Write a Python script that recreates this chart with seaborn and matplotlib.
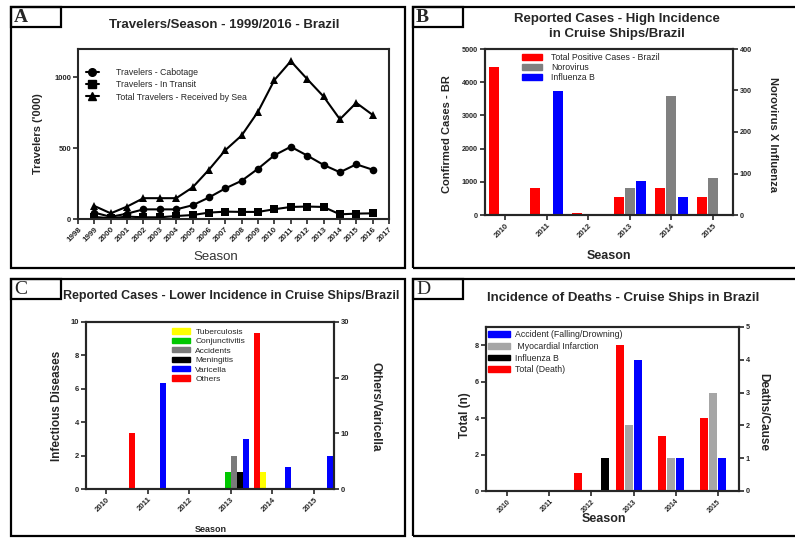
import matplotlib
matplotlib.use("Agg")
import matplotlib.pyplot as plt
from matplotlib.patches import Rectangle, Patch
from matplotlib.lines import Line2D
import seaborn as sns
import pandas as pd

# ---- panel A: travelers per season ('000)
years = list(range(1999, 2017))
cabotage = [45, 15, 38, 68, 68, 68, 97, 152, 216, 270, 355, 450, 510, 448, 382, 330, 386, 348]
in_transit = [15, 5, 17, 12, 12, 21, 28, 45, 52, 50, 50, 69, 85, 88, 85, 33, 38, 40]
total_sea = [92, 40, 88, 147, 147, 147, 223, 348, 486, 590, 758, 981, 1114, 988, 865, 704, 820, 735]
a_labels = ["Travelers - Cabotage", "Travelers - In Transit", "Total Travelers - Received by Sea"]

# ---- panels B-D: seasons
seasons = ["2010", "2011", "2012", "2013", "2014", "2015"]

b_total = [4450, 800, 50, 550, 820, 550]
b_norovirus = [0, 0, 0, 66, 286, 90]
b_influenza = [0, 299, 0, 81, 43, 0]

c_others = [0, 10, 0, 0, 28, 0]
c_tuberculosis = [0, 0, 0, 0, 1, 0]
c_conjunctivitis = [0, 0, 0, 1, 0, 0]
c_accidents = [0, 0, 0, 2, 0, 0]
c_meningitis = [0, 0, 0, 1, 0, 0]
c_varicella = [0, 19, 0, 9, 4, 6]

d_total = [0, 0, 1, 8, 3, 4]
d_myocardial = [0, 0, 0, 2, 1, 3]
d_accident = [0, 0, 0, 4, 1, 1]
d_influenza = [0, 0, 1, 0, 0, 0]


def long_df(series):
    rows = []
    for name, vals in series.items():
        for s, v in zip(seasons, vals):
            rows.append({"season": s, "series": name, "value": v})
    return pd.DataFrame(rows)


sns.set_theme(style="ticks")
plt.rcParams["font.family"] = ["Liberation Sans", "DejaVu Sans"]
plt.rcParams["axes.linewidth"] = 1.5

W, H = 795, 540
fig = plt.figure(figsize=(W / 100, H / 100), dpi=100)


def fbox(x0, y0, x1, y1, lw=1.6):
    fig.add_artist(Rectangle((x0 / W, 1 - y1 / H), (x1 - x0) / W, (y1 - y0) / H,
                             transform=fig.transFigure, fill=False, lw=lw, ec="black"))


def fax(l, t, r, b):
    return fig.add_axes([l / W, 1 - b / H, (r - l) / W, (b - t) / H])


def ftext(x, y, s, **kw):
    fig.text(x / W, 1 - y / H, s, ha="center", va="center", **kw)


# panel frames + letter boxes
fbox(11, 7, 405, 268)
fbox(413, 7, 800, 268)
fbox(11, 279, 405, 536)
fbox(413, 279, 800, 536)
for (x0, y0, letter) in [(11, 7, "A"), (413, 7, "B"), (11, 279, "C"), (413, 279, "D")]:
    fbox(x0, y0, x0 + 50, y0 + 20)
    fig.text((x0 + 3) / W, 1 - (y0 + 10) / H, letter, ha="left", va="center",
             family=["Liberation Serif", "DejaVu Serif"], fontsize=14,
             fontweight="bold" if letter in "AB" else "normal")


def style_ax(ax, ysize=5.2, xsize=5.6):
    ax.tick_params(direction="out", length=3.5, width=1.2, pad=1.5)
    ax.tick_params(axis="y", labelsize=ysize)
    ax.tick_params(axis="x", labelsize=xsize)
    for lab in ax.get_xticklabels() + ax.get_yticklabels():
        lab.set_fontweight("bold")
    for sp in ax.spines.values():
        sp.set_visible(True)
        sp.set_linewidth(1.5)


def rot_x(ax):
    for lab in ax.get_xticklabels():
        lab.set_rotation(45)
        lab.set_ha("right")
        lab.set_rotation_mode("anchor")


legkw = dict(loc="upper left", frameon=False, borderpad=0, borderaxespad=0)

# ================= A
axA = fax(78, 49, 389, 219)
dfA = pd.DataFrame({
    "year": years * 3,
    "value": cabotage + in_transit + total_sea,
    "series": [a_labels[0]] * len(years) + [a_labels[1]] * len(years) + [a_labels[2]] * len(years),
})
mk = dict(zip(a_labels, ["o", "s", "^"]))
sns.lineplot(data=dfA, x="year", y="value", hue="series", style="series", markers=mk,
             dashes=False, palette={k: "black" for k in a_labels}, markersize=5.5,
             markeredgewidth=0, linewidth=1.5, legend=False, ax=axA)
axA.set_xlim(1998, 2017)
axA.set_ylim(0, 1200)
axA.set_xticks(range(1998, 2018))
axA.set_yticks([0, 500, 1000])
style_ax(axA, 5.5, 5.8)
rot_x(axA)
axA.set_ylabel("Travelers ('000)", fontsize=8, fontweight="bold", va="center")
axA.yaxis.set_label_coords(-0.129, 0.5)
axA.set_xlabel("Season", fontsize=9.5, color="#333333", va="center")
axA.xaxis.set_label_coords(0.444, -0.226)
hA = [Line2D([], [], color="black", marker=m, markersize=5.5, lw=1.5) for m in ["o", "s", "^"]]
axA.legend(hA, a_labels, bbox_to_anchor=(0.025, 0.886), fontsize=6.3, handlelength=1.5,
           handletextpad=1.9, labelspacing=0.35, **legkw)
ftext(224, 25, "Travelers/Season - 1999/2016 - Brazil", fontsize=9.5, fontweight="bold")

# ================= B
axB = fax(485, 49, 733, 215)
axB2 = axB.twinx()
b_order = ["Total Positive Cases - Brazil", "Norovirus", "Influenza B"]
b_pal = dict(zip(b_order, ["#ff0000", "#808080", "#0000ff"]))
dfB = long_df(dict(zip(b_order, [b_total, b_norovirus, b_influenza])))
kwB = dict(x="season", y="value", hue="series", hue_order=b_order, order=seasons, palette=b_pal,
           width=0.81, gap=0.11, dodge=True, errorbar=None, legend=False, saturation=1, linewidth=0)
sns.barplot(data=dfB[dfB.series == b_order[0]], ax=axB, **kwB)
sns.barplot(data=dfB[dfB.series != b_order[0]], ax=axB2, **kwB)
axB.set_xlim(-0.48, 5.48)
axB.set_ylim(0, 5000)
axB2.set_ylim(0, 400)
axB.set_yticks(range(0, 5001, 1000))
axB2.set_yticks(range(0, 401, 100))
style_ax(axB)
style_ax(axB2)
rot_x(axB)
axB.set_ylabel("Confirmed Cases - BR", fontsize=8, fontweight="bold", va="center")
axB.yaxis.set_label_coords(-0.153, 0.49)
axB2.set_ylabel("Norovirus X Influenza", fontsize=8, fontweight="bold", rotation=270, va="center")
axB2.yaxis.set_label_coords(1.161, 0.485)
axB.set_xlabel("Season", fontsize=9, fontweight="bold", va="center")
axB.xaxis.set_label_coords(0.5, -0.247)
hB = [Patch(color=b_pal[k]) for k in b_order]
axB.legend(hB, b_order, bbox_to_anchor=(0.149, 0.975), fontsize=6.3, handlelength=2.3,
           handleheight=0.7, handletextpad=1.0, labelspacing=0.1, **legkw)
ftext(617, 19, "Reported Cases - High Incidence", fontsize=9.5, fontweight="bold")
ftext(617, 34, "in Cruise Ships/Brazil", fontsize=9.5, fontweight="bold")

# ================= C
axC = fax(86, 322, 334, 489)
axC2 = axC.twinx()
c_order = ["Others", "Tuberculosis", "Conjunctivitis", "Accidents", "Meningitis", "Varicella"]
c_pal = dict(zip(c_order, ["#ff0000", "#ffff00", "#00c800", "#7a7a7a", "#000000", "#0000ff"]))
dfC = long_df(dict(zip(c_order, [c_others, c_tuberculosis, c_conjunctivitis,
                                 c_accidents, c_meningitis, c_varicella])))
right_c = ["Others", "Varicella"]
kwC = dict(x="season", y="value", hue="series", hue_order=c_order, order=seasons, palette=c_pal,
           width=0.9, gap=0.04, dodge=True, errorbar=None, legend=False, saturation=1, linewidth=0)
sns.barplot(data=dfC[~dfC.series.isin(right_c)], ax=axC, **kwC)
sns.barplot(data=dfC[dfC.series.isin(right_c)], ax=axC2, **kwC)
axC.set_xlim(-0.48, 5.48)
axC.set_ylim(0, 10)
axC2.set_ylim(0, 30)
axC.set_yticks(range(0, 11, 2))
axC2.set_yticks(range(0, 31, 10))
style_ax(axC, 5.5)
style_ax(axC2, 5.5)
rot_x(axC)
axC.set_ylabel("Infectious Diseases", fontsize=8.5, fontweight="bold", va="center")
axC.yaxis.set_label_coords(-0.117, 0.497)
axC2.set_ylabel("Others/Varicella", fontsize=8.5, fontweight="bold", rotation=270, va="center")
axC2.yaxis.set_label_coords(1.169, 0.49)
axC.set_xlabel("Season", fontsize=6.5, fontweight="bold", va="center")
axC.xaxis.set_label_coords(0.504, -0.24)
leg_c = ["Tuberculosis", "Conjunctivitis", "Accidents", "Meningitis", "Varicella", "Others"]
hC = [Patch(color=c_pal[k]) for k in leg_c]
axC.legend(hC, leg_c, bbox_to_anchor=(0.347, 0.962), fontsize=6, handlelength=2.2,
           handleheight=0.6, handletextpad=0.6, labelspacing=0.22, **legkw)
ftext(231, 296, "Reported Cases - Lower Incidence in Cruise Ships/Brazil", fontsize=9, fontweight="bold")

# ================= D
axD = fax(486, 327, 739, 491)
axD2 = axD.twinx()
d_order = ["Total (Death)", " Myocardial Infarction", "Accident (Falling/Drowning)", "Influenza B"]
d_pal = dict(zip(d_order, ["#ff0000", "#a6a6a6", "#0000ff", "#000000"]))
dfD = long_df(dict(zip(d_order, [d_total, d_myocardial, d_accident, d_influenza])))
kwD = dict(x="season", y="value", hue="series", hue_order=d_order, order=seasons, palette=d_pal,
           width=0.857, gap=0.067, dodge=True, errorbar=None, legend=False, saturation=1, linewidth=0)
sns.barplot(data=dfD[dfD.series == d_order[0]], ax=axD, **kwD)
sns.barplot(data=dfD[dfD.series != d_order[0]], ax=axD2, **kwD)
axD.set_xlim(-0.51, 5.51)
axD.set_ylim(0, 9)
axD2.set_ylim(0, 5)
axD.set_yticks(range(0, 9, 2))
axD2.set_yticks(range(0, 6))
style_ax(axD, 5.2, 5.0)
style_ax(axD2, 5.2, 5.0)
rot_x(axD)
axD.set_ylabel("Total (n)", fontsize=8.5, fontweight="bold", va="center")
axD.yaxis.set_label_coords(-0.083, 0.46)
axD2.set_ylabel("Deaths/Cause", fontsize=8.5, fontweight="bold", rotation=270, va="center")
axD2.yaxis.set_label_coords(1.095, 0.484)
axD.set_xlabel("Season", fontsize=9, fontweight="bold", va="center")
axD.xaxis.set_label_coords(0.466, -0.17)
leg_d = ["Accident (Falling/Drowning)", " Myocardial Infarction", "Influenza B", "Total (Death)"]
hD = [Patch(color=d_pal[k]) for k in leg_d]
axD.legend(hD, leg_d, bbox_to_anchor=(0.008, 0.98), fontsize=6.3, handlelength=2.5,
           handleheight=0.6, handletextpad=0.6, labelspacing=0.3, **legkw)
ftext(623, 298, "Incidence of Deaths - Cruise Ships in Brazil", fontsize=9.5, fontweight="bold")

fig.savefig("out.png", dpi=100)
